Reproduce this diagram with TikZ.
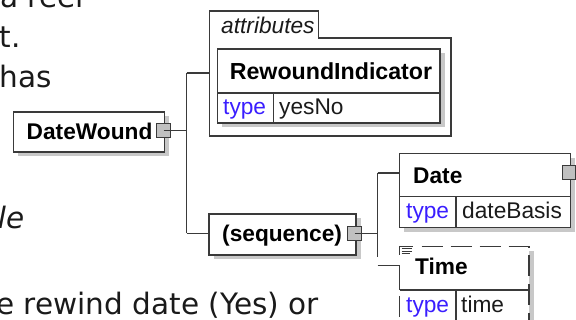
\documentclass[tikz,border=0pt]{standalone}
\usepackage{fontspec}
\setmainfont{Liberation Sans}
\newfontfamily\bodyfont{DejaVu Sans}
\definecolor{linec}{HTML}{3A3A3A}
\definecolor{shadowc}{HTML}{C8C8C8}
\definecolor{sqc}{HTML}{C0C0C0}
\definecolor{typec}{HTML}{3A1EFF}
\definecolor{textc}{HTML}{1A1A1A}
\begin{document}
\begin{tikzpicture}[x=1pt,y=-1pt,
  edge/.style={draw=linec, line width=1.2pt},
  box/.style={draw=linec, line width=1.4pt, fill=white, rectangle, inner sep=0pt, outer sep=0pt, anchor=north west},
  shadowbox/.style={fill=shadowc, draw=none, rectangle, inner sep=0pt, outer sep=0pt, anchor=north west},
  sq/.style={draw=linec, line width=1pt, fill=sqc, rectangle, inner sep=0pt, outer sep=0pt, minimum width=13.5pt, minimum height=13.5pt},
  sep/.style={draw=linec, line width=1.4pt},
  dashedge/.style={draw=linec, line width=1.4pt, dash pattern=on 21pt off 8pt},
  lbl/.style={font=\fontsize{22.7}{26}\selectfont\bfseries, inner sep=0pt, anchor=base west, text=black},
  typel/.style={font=\fontsize{22.7}{26}\selectfont, inner sep=0pt, anchor=base west, text=typec},
  vall/.style={font=\fontsize{22.7}{26}\selectfont, inner sep=0pt, anchor=base west, text=textc},
  body/.style={font=\bodyfont\fontsize{29.5}{35}\selectfont, inner sep=0pt, anchor=base west, text=textc},
]
\useasboundingbox (0,0) rectangle (576,320);
\clip (0,0) rectangle (576,320);

% ---- body text fragments
\node[body] (t1) at (0,7.3) {a reel};
\node[body] (t2) at (-0.5,47.3) {t.};
\node[body] (t3) at (-0.5,87.3) {has};
\node[body, anchor=base east, font=\bodyfont\itshape\fontsize{29.5}{35}\selectfont] (t4) at (24.5,228.3) {le};
\node[body, anchor=base east] (t5) at (319,315) {e rewind date (Yes) or};

% ---- DateWound
\node[shadowbox, minimum width=151pt, minimum height=40pt] (dwsh) at (18.1,116.5) {};
\node[box, minimum width=151pt, minimum height=40pt] (dw) at (13.6,112) {};
\node[lbl] (dwt) at (26.5,139.3) {DateWound};

% ---- attributes frame
\node[anchor=north west, minimum width=241.6pt, minimum height=125pt, inner sep=0pt, outer sep=0pt] (att) at (209.4,11) {};
\draw[linec, line width=1.2pt] (209.4,136) -- (209.4,11) -- (318.5,11) -- (318.5,38) -- (451,38) -- (451,136) -- cycle;
\node[font=\fontsize{22.7}{26}\selectfont\itshape, inner sep=0pt, anchor=base west, text=textc] (attt) at (221,33.3) {attributes};

% ---- RewoundIndicator
\node[shadowbox, minimum width=222.5pt, minimum height=74pt] (rish) at (222,53.5) {};
\node[box, minimum width=222.5pt, minimum height=74pt] (ri) at (217.5,49) {};
\draw[sep] (217.5,93) -- (440,93);
\draw[sep] (273.7,93) -- (273.7,123);
\node[lbl, font=\fontsize{23.2}{26}\selectfont\bfseries] (rit) at (229.6,79.3) {RewoundIndicator};
\node[typel] (rity) at (223,115) {type};
\node[vall] (riv) at (279,115) {yesNo};

% ---- (sequence)
\node[shadowbox, minimum width=147pt, minimum height=41pt] (seqsh) at (213.5,218.5) {};
\node[box, minimum width=147pt, minimum height=41pt] (seq) at (209,214) {};
\node[lbl] (seqt) at (222,242) {(sequence)};

% ---- Date
\node[shadowbox, minimum width=170.8pt, minimum height=74pt] (datesh) at (404.2,158.2) {};
\node[box, minimum width=170.8pt, minimum height=74pt] (date) at (399.7,153.7) {};
\draw[sep] (399.7,196.7) -- (570.5,196.7);
\draw[sep] (456,196.7) -- (456,227.7);
\node[lbl] (datet) at (413,184) {Date};
\node[typel] (datety) at (406,218.3) {type};
\node[vall] (datev) at (462,218.3) {dateBasis};

% ---- Time (optional, dashed)
\node[shadowbox, minimum width=129.3pt, minimum height=90pt] (timesh) at (404.2,251.2) {};
\node[rectangle, fill=white, anchor=north west, inner sep=0pt, outer sep=0pt, minimum width=129.3pt, minimum height=90pt] (time) at (399.7,246.7) {};
\draw[dashedge] (421.7,246.7) -- (529,246.7) -- (529,335);
\draw[dashedge, dash phase=23pt] (399.7,290) -- (399.7,335);
\draw[sep] (399.7,265.7) -- (399.7,290);
\draw[sep] (399.7,290) -- (529,290);
\draw[sep] (456,290) -- (456,335);
% documentation icon
\draw[linec, line width=0.9pt] (399.4,246) -- (399.4,255.5);
\draw[linec, line width=0.9pt] (399.4,246.2) -- (413.3,246.2);
\draw[linec, line width=0.9pt] (401.7,248.6) -- (411.7,248.6);
\draw[linec, line width=0.9pt] (401.7,251) -- (411.7,251);
\draw[linec, line width=0.9pt] (401.7,253.4) -- (409.7,253.4);
\node[lbl] (timet) at (415,275) {Time};
\node[typel] (timety) at (406,313) {type};
\node[vall] (timev) at (461,313) {time};

% ---- connector squares
\node[sq] (dwsq) at (163.5,130.3) {};
\node[sq] (seqsq) at (354.5,233.5) {};
\node[sq] (datesq) at (569,172.7) {};

% ---- connectors
\coordinate (jA) at (186.6,73);
\coordinate (jB) at (186.6,233.5);
\coordinate (jC) at (377.7,173);
\coordinate (jD) at (377.7,256.7);
\coordinate (jE) at (377.7,265.7);
\draw[edge] (dwsq.center) -- (dwsq.center -| jA);
\draw[edge] (jA) -- (jB);
\draw[edge] (jA) -- (att.west |- jA);
\draw[edge] (jB) -- (seq.west |- jB);
\draw[edge] (seqsq.center) -- (seqsq.center -| jC);
\draw[edge] (jC) -- (jD);
\draw[edge] (jC) -- (date.west |- jC);
\draw[edge] (jE) -- (time.west |- jE);
\end{tikzpicture}
\end{document}
